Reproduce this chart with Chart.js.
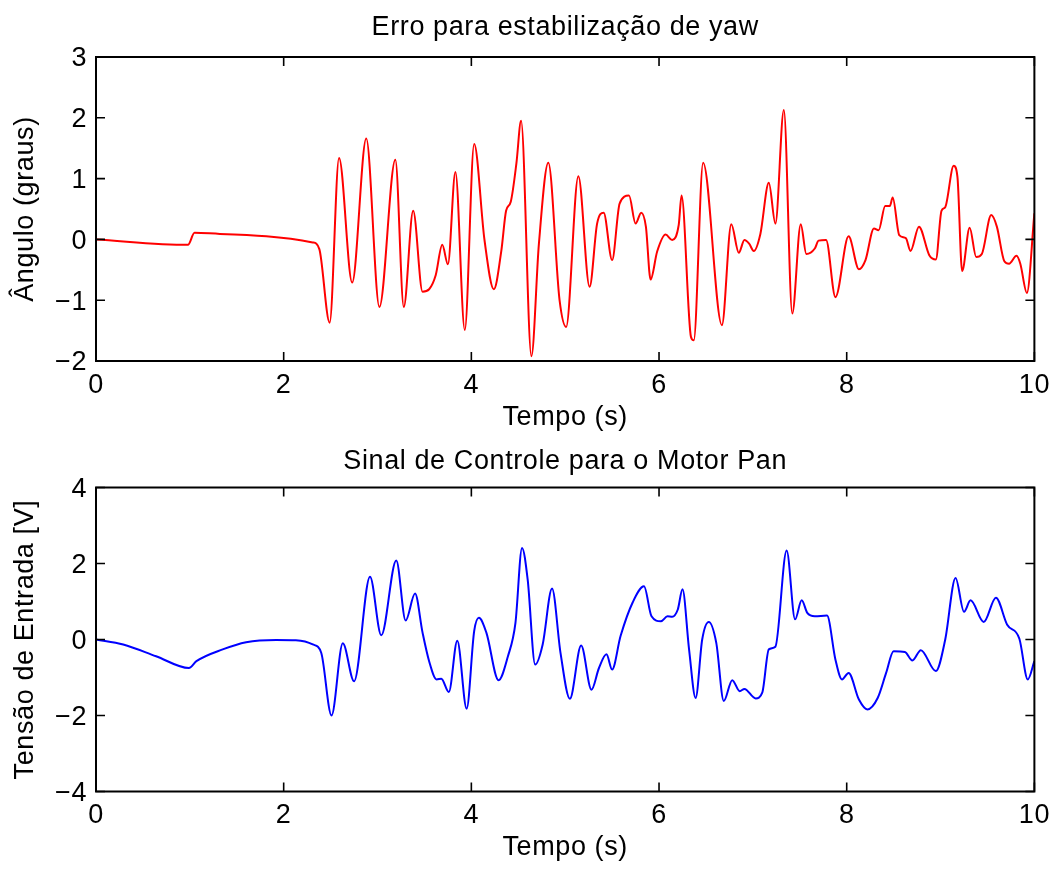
<!DOCTYPE html>
<html>
<head>
<meta charset="utf-8">
<title>Erro de yaw e sinal de controle</title>
<script src="https://cdn.jsdelivr.net/npm/chart.js@4.4.1/dist/chart.umd.min.js"></script>
<style>
  html, body { margin: 0; padding: 0; background: #fff; }
  #wrap { position: relative; width: 1058px; height: 870px; }
  canvas { position: absolute; left: 0; }
</style>
</head>
<body>
<div id="wrap">
  <canvas id="yawChart" width="1058" height="440" style="top:0"></canvas>
  <canvas id="panChart" width="1058" height="435" style="top:435px"></canvas>
</div>
<script>
// Erro de yaw (graus) ao longo do tempo (s)
const yawTime = [
  0, 0.98, 1.05, 1.32, 2.31, 2.38, 2.49, 2.59, 2.73, 2.88, 3.02, 3.19, 3.28, 3.38,
  3.48, 3.55, 3.62, 3.69, 3.75, 3.83, 3.93, 4.03, 4.14, 4.24, 4.32, 4.37, 4.42, 4.48,
  4.53, 4.64, 4.72, 4.82, 4.94, 5.01, 5.14, 5.26, 5.34, 5.41, 5.50, 5.58, 5.68, 5.75,
  5.81, 5.86, 5.91, 5.98, 6.07, 6.14, 6.21, 6.24, 6.34, 6.37, 6.47, 6.67, 6.77, 6.85,
  6.91, 6.96, 7.01, 7.08, 7.17, 7.24, 7.33, 7.42, 7.51, 7.57, 7.66, 7.70, 7.78, 7.88,
  8.02, 8.13, 8.20, 8.29, 8.34, 8.41, 8.46, 8.49, 8.56, 8.63, 8.68, 8.77, 8.88, 8.95,
  9.01, 9.05, 9.14, 9.18, 9.23, 9.31, 9.38, 9.44, 9.54, 9.60, 9.68, 9.73, 9.81, 9.85,
  9.92, 10.0
];
const yawError = [
  0.00, -0.09, 0.11, 0.09, -0.05, -0.16, -1.37, 1.34, -0.71, 1.66, -1.11, 1.31, -1.11, 0.47,
  -0.86, -0.82, -0.59, -0.09, -0.41, 1.11, -1.49, 1.57, -0.01, -0.82, -0.18, 0.47, 0.62, 1.25,
  1.95, -1.92, -0.07, 1.26, -1.00, -1.44, 1.04, -0.78, 0.26, 0.44, -0.34, 0.59, 0.72, 0.26,
  0.44, 0.21, -0.66, -0.20, 0.08, -0.01, 0.24, 0.72, -1.60, -1.66, 1.26, -1.41, 0.25, -0.22,
  -0.01, -0.07, -0.19, 0.09, 0.93, 0.26, 2.13, -1.22, 0.25, -0.24, -0.15, -0.02, -0.01, -0.95,
  0.05, -0.49, -0.34, 0.18, 0.15, 0.55, 0.55, 0.69, 0.07, 0.02, -0.19, 0.21, -0.26, -0.33,
  0.47, 0.53, 1.21, 1.03, -0.52, 0.19, -0.29, -0.24, 0.40, 0.21, -0.36, -0.40, -0.27, -0.40,
  -0.88, 0.43
];

// Tensão de entrada do motor pan (V) ao longo do tempo (s)
const panTime = [
  0, 0.29, 0.64, 0.99, 1.07, 1.35, 1.60, 1.92, 2.13, 2.31, 2.40, 2.51, 2.63, 2.75,
  2.92, 3.04, 3.20, 3.30, 3.40, 3.48, 3.55, 3.63, 3.68, 3.76, 3.85, 3.95, 4.03, 4.08,
  4.16, 4.29, 4.39, 4.47, 4.54, 4.60, 4.68, 4.76, 4.86, 4.95, 5.05, 5.17, 5.28, 5.36,
  5.44, 5.50, 5.59, 5.72, 5.84, 5.92, 6.02, 6.09, 6.14, 6.20, 6.25, 6.32, 6.39, 6.46,
  6.53, 6.61, 6.69, 6.78, 6.86, 6.91, 7.03, 7.10, 7.17, 7.24, 7.36, 7.45, 7.52, 7.58,
  7.66, 7.79, 7.88, 7.95, 8.02, 8.13, 8.22, 8.33, 8.42, 8.50, 8.62, 8.70, 8.79, 8.95,
  9.05, 9.16, 9.25, 9.32, 9.46, 9.59, 9.71, 9.84, 9.93, 10.0
];
const panVoltage = [
  0.00, -0.13, -0.44, -0.75, -0.57, -0.26, -0.07, -0.01, -0.02, -0.13, -0.35, -2.00, -0.10, -1.10,
  1.65, 0.11, 2.08, 0.50, 1.21, 0.18, -0.57, -1.05, -1.03, -1.38, -0.03, -1.82, 0.22, 0.57,
  0.18, -1.07, -0.44, 0.44, 2.41, 1.58, -0.66, -0.13, 1.34, -0.35, -1.56, -0.16, -1.32, -0.75,
  -0.39, -0.79, 0.09, 0.98, 1.40, 0.61, 0.48, 0.61, 0.60, 0.79, 1.32, -0.26, -1.54, 0.00,
  0.46, -0.09, -1.62, -1.07, -1.36, -1.30, -1.55, -1.40, -0.26, -0.19, 2.34, 0.53, 1.03, 0.70,
  0.61, 0.63, -0.53, -1.05, -0.88, -1.58, -1.84, -1.54, -0.88, -0.31, -0.33, -0.55, -0.28, -0.83,
  0.00, 1.62, 0.73, 1.03, 0.46, 1.10, 0.39, 0.02, -1.05, -0.57
];

const timeTicks = [0, 2, 4, 6, 8, 10];

const FAMILY = "'Liberation Sans', Arial, Helvetica, sans-serif";
const FONT = { family: FAMILY, size: 27, weight: 'normal', lineHeight: 1.2 };
const TRACKING = '0.6px';

Chart.defaults.font.family = FAMILY;
Chart.defaults.font.size = 27;
Chart.defaults.color = '#000';

// Slightly open tracking for all chart text
const textTracking = {
  id: 'textTracking',
  beforeUpdate(chart) { chart.ctx.letterSpacing = TRACKING; },
  beforeLayout(chart) { chart.ctx.letterSpacing = TRACKING; },
  beforeDraw(chart) { chart.ctx.letterSpacing = TRACKING; }
};

// Title centred over the plotting area
const plotTitle = {
  id: 'plotTitle',
  afterDraw(chart, args, opts) {
    const { ctx, chartArea: a } = chart;
    ctx.save();
    ctx.letterSpacing = TRACKING;
    ctx.font = `normal ${FONT.size}px ${FAMILY}`;
    ctx.fillStyle = '#000';
    ctx.textAlign = 'center';
    ctx.textBaseline = 'middle';
    ctx.fillText(opts.text, (a.left + a.right) / 2, opts.y);
    ctx.restore();
  }
};

// Closed axes box with inward tick marks on all four sides
const axesBox = {
  id: 'axesBox',
  afterDatasetsDraw(chart) {
    const { ctx, chartArea: a, scales: { x, y } } = chart;
    const len = 9;
    ctx.save();
    ctx.strokeStyle = '#000';
    ctx.lineWidth = 1.6;
    ctx.beginPath();
    x.ticks.forEach(t => {
      const px = x.getPixelForValue(t.value);
      ctx.moveTo(px, a.bottom); ctx.lineTo(px, a.bottom - len);
      ctx.moveTo(px, a.top); ctx.lineTo(px, a.top + len);
    });
    y.ticks.forEach(t => {
      const py = y.getPixelForValue(t.value);
      ctx.moveTo(a.left, py); ctx.lineTo(a.left + len, py);
      ctx.moveTo(a.right, py); ctx.lineTo(a.right - len, py);
    });
    ctx.stroke();
    ctx.lineWidth = 2;
    ctx.strokeRect(a.left, a.top, a.right - a.left, a.bottom - a.top);
    ctx.restore();
  }
};

const minusLabel = v => (v < 0 ? '\u2212' + Math.abs(v) : String(v));

function makeChart(id, cfg) {
  const points = cfg.xs.map((t, i) => ({ x: t, y: cfg.ys[i] }));
  return new Chart(document.getElementById(id), {
    type: 'line',
    data: {
      datasets: [{
        data: points,
        borderColor: cfg.color,
        borderWidth: 2,
        pointRadius: 0,
        fill: false,
        cubicInterpolationMode: 'monotone'
      }]
    },
    options: {
      responsive: false,
      animation: false,
      devicePixelRatio: 1,
      layout: { padding: { left: 0, top: cfg.plotTop, right: 22, bottom: 0 } },
      plugins: {
        legend: { display: false },
        tooltip: { enabled: false },
        title: { display: false },
        plotTitle: { text: cfg.title, y: cfg.titleY }
      },
      scales: {
        x: {
          type: 'linear',
          min: 0, max: 10,
          afterBuildTicks: s => { s.ticks = timeTicks.map(v => ({ value: v })); },
          grid: { display: false, drawTicks: false },
          border: { display: false },
          ticks: { font: FONT, padding: 8, maxRotation: 0, callback: minusLabel },
          title: { display: true, text: 'Tempo (s)', font: FONT, padding: { top: 0, bottom: cfg.xTitleBottom } },
          afterFit: s => { s.height = cfg.xHeight; }
        },
        y: {
          type: 'linear',
          min: cfg.yMin, max: cfg.yMax,
          afterBuildTicks: s => { s.ticks = cfg.yTicks.map(v => ({ value: v })); },
          grid: { display: false, drawTicks: false },
          border: { display: false },
          ticks: { font: FONT, padding: 9, labelOffset: 2, callback: minusLabel },
          title: { display: true, text: cfg.yTitle, font: FONT, padding: { top: 9, bottom: 0 } },
          afterFit: s => { s.width = 96; }
        }
      }
    },
    plugins: [textTracking, plotTitle, axesBox]
  });
}

makeChart('yawChart', {
  xs: yawTime, ys: yawError, color: '#ff0000',
  title: 'Erro para estabilização de yaw',
  plotTop: 57, titleY: 28,
  xHeight: 79, xTitleBottom: 6,
  yMin: -2, yMax: 3, yTicks: [-2, -1, 0, 1, 2, 3],
  yTitle: 'Ângulo (graus)'
});

makeChart('panChart', {
  xs: panTime, ys: panVoltage, color: '#0000ff',
  title: 'Sinal de Controle para o Motor Pan',
  plotTop: 52.5, titleY: 27,
  xHeight: 78.5, xTitleBottom: 6,
  yMin: -4, yMax: 4, yTicks: [-4, -2, 0, 2, 4],
  yTitle: 'Tensão de Entrada [V]'
});
</script>
</body>
</html>
